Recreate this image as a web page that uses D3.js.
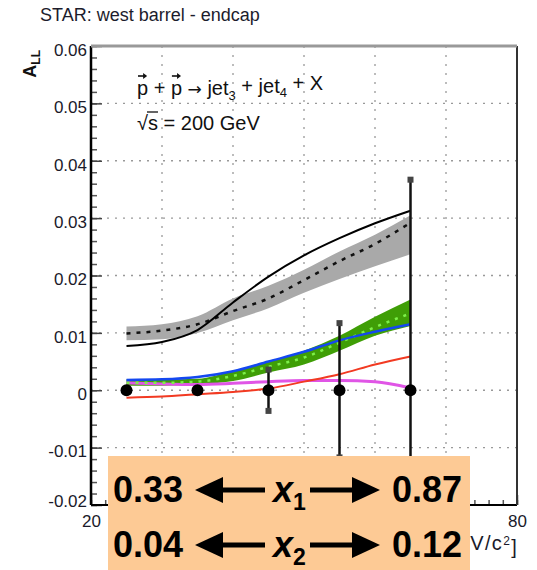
<!DOCTYPE html>
<html>
<head>
<meta charset="utf-8">
<script src="https://cdn.jsdelivr.net/npm/d3@7/dist/d3.min.js"></script>
<style>
body{margin:0;background:#fff;}
svg{display:block;font-family:"Liberation Sans",Arial,sans-serif;}
</style>
</head>
<body>
<svg id="grafico" width="537" height="570"></svg>
<script>
// data points (all at zero)
var massPts = [25, 35, 45, 55, 65];
var allVals = [0, 0, 0, 0, 0];
var allErrs = [0.0008, 0.0009, 0.0036, 0.0117, 0.0367];

// theory curves
var curveX = [25, 30, 35, 40, 45, 50, 55, 60, 65];
var blackSolid = [0.0077, 0.0084, 0.0105, 0.0153, 0.0198, 0.0235, 0.0265, 0.0291, 0.0313];
var blackDash = [0.0099, 0.0104, 0.0115, 0.0138, 0.0160, 0.0192, 0.0225, 0.0255, 0.0292];
var grayLow = [0.0087, 0.0089, 0.0100, 0.0122, 0.0143, 0.0170, 0.0194, 0.0216, 0.0237];
var grayHigh = [0.0111, 0.0115, 0.0129, 0.0160, 0.0182, 0.0210, 0.0242, 0.0271, 0.0305];
var greenMid = [0.0013, 0.0013, 0.0015, 0.0025, 0.0041, 0.0057, 0.0083, 0.0110, 0.0134];
var greenLow = [0.0008, 0.0008, 0.0010, 0.0016, 0.0031, 0.0045, 0.0069, 0.0095, 0.0112];
var greenHigh = [0.0019, 0.0019, 0.0020, 0.0034, 0.0051, 0.0069, 0.0095, 0.0128, 0.0158];
var blueLine = [0.0018, 0.0019, 0.0023, 0.0033, 0.0050, 0.0067, 0.0087, 0.0102, 0.0115];
var redLine = [-0.0013, -0.0011, -0.0007, -0.0003, 0.0003, 0.0015, 0.0028, 0.0045, 0.0059];
var magentaLine = [0.0013, 0.0011, 0.0010, 0.0012, 0.0015, 0.0017, 0.0017, 0.0015, 0.0004];

// axis ticks
var xTicks = [20, 30, 40, 50, 60, 70, 80];
var xLabels = [20, 80];
var yTicks = [-0.02, -0.01, 0, 0.01, 0.02, 0.03, 0.04, 0.05, 0.06];

// box text
var x1Range = ["0.33", "0.87"];
var x2Range = ["0.04", "0.12"];

var margin = {top: 46, right: 20, bottom: 65, left: 91};
var width = 537 - margin.left - margin.right;
var height = 570 - margin.top - margin.bottom;

var x = d3.scaleLinear().domain([20, 80]).range([0, width]);
var y = d3.scaleLinear().domain([-0.02, 0.06]).range([height, 0]);

var svg = d3.select("#grafico");

// title
svg.append("text")
    .attr("x", 40).attr("y", 21)
    .style("font-size", "18px")
    .attr("fill", "#1c1c2c")
    .text("STAR: west barrel - endcap");

var g = svg.append("g")
    .attr("transform", "translate(" + margin.left + "," + margin.top + ")");

g.append("clipPath").attr("id", "clip")
  .append("rect").attr("width", width).attr("height", height);

// grid
g.append("g").selectAll("line").data(yTicks.slice(1)).enter().append("line")
    .attr("x1", 0).attr("x2", width)
    .attr("y1", function(d){ return y(d); }).attr("y2", function(d){ return y(d); })
    .attr("stroke", "#999").attr("stroke-width", 1.3)
    .attr("stroke-dasharray", function(d){ return d == 0.06 ? null : "2,6"; });
g.append("g").selectAll("line").data(xTicks.slice(1, 6)).enter().append("line")
    .attr("x1", function(d){ return x(d); }).attr("x2", function(d){ return x(d); })
    .attr("y1", 0).attr("y2", height)
    .attr("stroke", "#999").attr("stroke-width", 1.3)
    .attr("stroke-dasharray", "2,7");

var plot = g.append("g").attr("clip-path", "url(#clip)");

function pts(vals){
    return curveX.map(function(d, i){ return {x: d, y: vals[i]}; });
}
function band(lo, hi){
    return curveX.map(function(d, i){ return {x: d, lo: lo[i], hi: hi[i]}; });
}
var linha = d3.line().curve(d3.curveMonotoneX)
    .x(function(d){ return x(d.x); })
    .y(function(d){ return y(d.y); });
var area = d3.area().curve(d3.curveMonotoneX)
    .x(function(d){ return x(d.x); })
    .y0(function(d){ return y(d.lo); })
    .y1(function(d){ return y(d.hi); });

// gray band + black curves
plot.append("path").datum(band(grayLow, grayHigh))
    .attr("d", area).attr("fill", "#a9a9a9");
plot.append("path").datum(pts(blackDash))
    .attr("d", linha).attr("fill", "none")
    .attr("stroke", "#111").attr("stroke-width", 2.5).attr("stroke-dasharray", "4,6");
plot.append("path").datum(pts(blackSolid))
    .attr("d", linha).attr("fill", "none")
    .attr("stroke", "#000").attr("stroke-width", 2);

// green band
plot.append("path").datum(band(greenLow, greenHigh))
    .attr("d", area).attr("fill", "#3f9e06");
plot.append("path").datum(pts(magentaLine))
    .attr("d", linha).attr("fill", "none")
    .attr("stroke", "#e055e6").attr("stroke-width", 3);
plot.append("path").datum(pts(greenMid))
    .attr("d", linha).attr("fill", "none")
    .attr("stroke", "#7ef04a").attr("stroke-width", 2.5).attr("stroke-dasharray", "3,6");
plot.append("path").datum(pts(blueLine))
    .attr("d", linha).attr("fill", "none")
    .attr("stroke", "#1448f0").attr("stroke-width", 2.5);
plot.append("path").datum(pts(redLine))
    .attr("d", linha).attr("fill", "none")
    .attr("stroke", "#f23a22").attr("stroke-width", 2);

// error bars
var dados = massPts.map(function(d, i){ return {m: d, v: allVals[i], e: allErrs[i]}; });
plot.selectAll(".erro").data(dados).enter().append("line")
    .attr("class", "erro")
    .attr("x1", function(d){ return x(d.m); }).attr("x2", function(d){ return x(d.m); })
    .attr("y1", function(d){ return y(d.v - d.e); }).attr("y2", function(d){ return y(d.v + d.e); })
    .attr("stroke", "#111").attr("stroke-width", 2.5);
var comErro = dados.filter(function(d){ return d.e > 0.002; });
plot.selectAll(".cap").data(comErro).enter().append("rect")
    .attr("class", "cap")
    .attr("x", function(d){ return x(d.m) - 3; })
    .attr("y", function(d){ return y(d.v + d.e) - 3; })
    .attr("width", 6).attr("height", 6).attr("fill", "#444");
plot.selectAll(".cap2").data(comErro).enter().append("rect")
    .attr("class", "cap2")
    .attr("x", function(d){ return x(d.m) - 3; })
    .attr("y", function(d){ return y(d.v - d.e) - 3; })
    .attr("width", 6).attr("height", 6).attr("fill", "#444");
plot.selectAll(".ponto").data(dados).enter().append("circle")
    .attr("class", "ponto")
    .attr("cx", function(d){ return x(d.m); })
    .attr("cy", function(d){ return y(d.v); })
    .attr("r", 6).attr("fill", "#000");

// y axis (ticks inside)
var yAxis = g.append("g")
    .call(d3.axisLeft(y).tickValues(yTicks).tickSize(0).tickPadding(4)
        .tickFormat(function(d){ return d == 0 ? "0" : d3.format(".2f")(d).replace("\u2212", "-"); }));
yAxis.select(".domain").remove();
yAxis.selectAll("text").style("font-size", "17px").attr("fill", "#1a1a2a")
    .attr("dy", function(d){ return d == -0.02 ? "0.1em" : "0.55em"; });
g.append("g")
    .call(d3.axisRight(y).ticks(40).tickSize(6).tickFormat(""))
    .call(function(s){ s.select(".domain").remove(); s.selectAll("line").attr("stroke", "#555").attr("stroke-width", 1.5); });
g.append("g")
    .call(d3.axisRight(y).tickValues(yTicks).tickSize(11).tickFormat(""))
    .call(function(s){ s.select(".domain").remove(); s.selectAll("line").attr("stroke", "#444").attr("stroke-width", 1.5); });

// x axis (ticks inside)
g.append("g").attr("transform", "translate(0," + height + ")")
    .call(d3.axisTop(x).ticks(30).tickSize(5).tickFormat(""))
    .call(function(s){ s.select(".domain").remove(); s.selectAll("line").attr("stroke", "#555").attr("stroke-width", 1.5); });
g.append("g").attr("transform", "translate(0," + height + ")")
    .call(d3.axisTop(x).tickValues(xTicks).tickSize(10).tickFormat(""))
    .call(function(s){ s.select(".domain").remove(); s.selectAll("line").attr("stroke", "#444").attr("stroke-width", 1.5); });
var xAxis = g.append("g").attr("transform", "translate(0," + height + ")")
    .call(d3.axisBottom(x).tickValues(xLabels).tickSize(0).tickPadding(10));
xAxis.select(".domain").remove();
xAxis.selectAll("text").style("font-size", "17px").attr("fill", "#1a1a2a");

// frame
g.append("line").attr("x1", 0).attr("x2", 0).attr("y1", 0).attr("y2", height)
    .attr("stroke", "#000").attr("stroke-width", 2.5);
g.append("line").attr("x1", 0).attr("x2", width).attr("y1", height).attr("y2", height)
    .attr("stroke", "#000").attr("stroke-width", 2);
g.append("line").attr("x1", width).attr("x2", width).attr("y1", 0).attr("y2", height)
    .attr("stroke", "#333").attr("stroke-width", 2);
g.append("line").attr("x1", 0).attr("x2", width).attr("y1", 0).attr("y2", 0)
    .attr("stroke", "#999").attr("stroke-width", 3);

// axis titles
var yt = svg.append("text")
    .attr("transform", "translate(36,50) rotate(-90)")
    .attr("text-anchor", "end")
    .attr("fill", "#111")
    .style("font-size", "18px").style("font-weight", "bold");
yt.append("tspan").text("A");
yt.append("tspan").attr("dy", "0.3em").style("font-size", "12px").text("LL");

var xt = svg.append("text")
    .attr("x", 518).attr("y", 550)
    .attr("text-anchor", "end").attr("fill", "#1a1a2a")
    .style("font-size", "20px").style("letter-spacing", "1.3px");
xt.append("tspan").text("M [GeV/c");
xt.append("tspan").attr("dy", "-0.45em").style("font-size", "12px").text("2");
xt.append("tspan").attr("dy", "0.45em").text("]");

// reaction label
var lab = svg.append("text").attr("x", 137).attr("y", 95)
    .attr("fill", "#111").style("font-size", "20px");
lab.append("tspan").text("p + p ");
lab.append("tspan").style("font-family", "DejaVu Sans").style("font-size", "17px").text("\u2192");
lab.append("tspan").text(" jet");
lab.append("tspan").attr("dy", "0.35em").style("font-size", "13px").text("3");
lab.append("tspan").attr("dy", "-0.35em").text(" + jet");
lab.append("tspan").attr("dy", "0.35em").style("font-size", "13px").text("4");
lab.append("tspan").attr("dy", "-0.35em").text(" + X");
// vector arrows over both p
[0, 4].forEach(function(i){
    var r = lab.node().getExtentOfChar(i);
    var x0 = r.x + 1, x1 = r.x + r.width - 1, yy = 76;
    svg.append("line").attr("x1", x0).attr("x2", x1 - 2).attr("y1", yy).attr("y2", yy)
        .attr("stroke", "#111").attr("stroke-width", 1.6);
    svg.append("path").attr("d", "M" + x1 + "," + yy + "L" + (x1 - 4) + "," + (yy - 3) + "L" + (x1 - 4) + "," + (yy + 3) + "Z")
        .attr("fill", "#111");
});
var raiz = svg.append("text").attr("x", 137).attr("y", 130)
    .attr("fill", "#111").style("font-size", "20px")
    .text("\u221As = 200 GeV");
var rs = raiz.node().getExtentOfChar(1);
svg.append("line").attr("x1", rs.x - 1).attr("x2", rs.x + rs.width).attr("y1", 112).attr("y2", 112)
    .attr("stroke", "#111").attr("stroke-width", 1.3);

// orange box with x ranges
svg.append("rect").attr("x", 108).attr("y", 456).attr("width", 362).attr("height", 114)
    .attr("fill", "#fdca95");

function linhaX(yb, nome, faixa, sub){
    svg.append("text").attr("x", 113).attr("y", yb)
        .style("font-size", "36px").style("font-weight", "bold").attr("fill", "#000")
        .text(faixa[0]);
    svg.append("text").attr("x", 392).attr("y", yb)
        .style("font-size", "36px").style("font-weight", "bold").attr("fill", "#000")
        .text(faixa[1]);
    var t = svg.append("text").attr("x", 273).attr("y", yb)
        .style("font-size", "36px").style("font-weight", "bold").style("font-style", "italic")
        .attr("fill", "#000");
    t.append("tspan").text(nome);
    t.append("tspan").attr("dy", 8).style("font-size", "23px").style("font-style", "normal").text(sub);
    var ym = yb - 12;
    // left arrow
    svg.append("line").attr("x1", 220).attr("x2", 265).attr("y1", ym).attr("y2", ym)
        .attr("stroke", "#000").attr("stroke-width", 5);
    svg.append("path").attr("d", "M195," + ym + "L223," + (ym - 13) + "L223," + (ym + 13) + "Z").attr("fill", "#000");
    // right arrow
    svg.append("line").attr("x1", 310).attr("x2", 355).attr("y1", ym).attr("y2", ym)
        .attr("stroke", "#000").attr("stroke-width", 5);
    svg.append("path").attr("d", "M380," + ym + "L352," + (ym - 13) + "L352," + (ym + 13) + "Z").attr("fill", "#000");
}
linhaX(502, "x", x1Range, "1");
linhaX(557, "x", x2Range, "2");
</script>
</body>
</html>
